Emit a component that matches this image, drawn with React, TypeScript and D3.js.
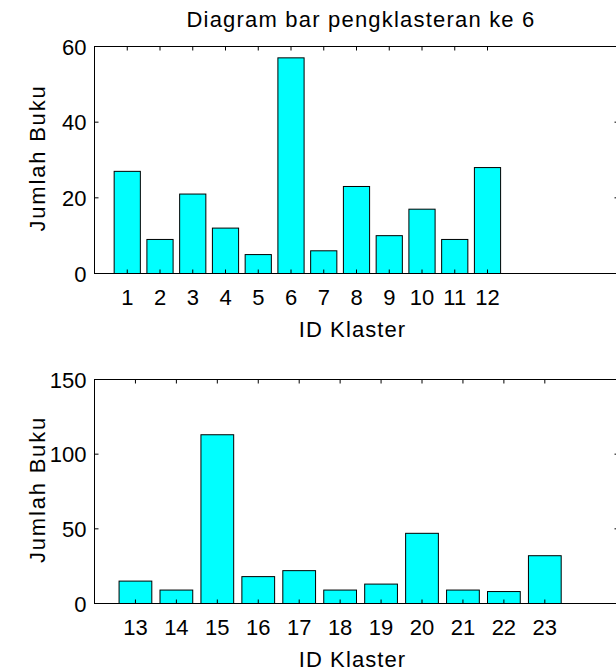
import React from 'react';
import * as d3 from 'd3';

// data
const klasterA = [1, 2, 3, 4, 5, 6, 7, 8, 9, 10, 11, 12];
const bukuA = [27, 9, 21, 12, 5, 57, 6, 23, 10, 17, 9, 28];
const yTicksA = [0, 20, 40, 60];

const klasterB = [13, 14, 15, 16, 17, 18, 19, 20, 21, 22, 23];
const bukuB = [15, 9, 113, 18, 22, 9, 13, 47, 9, 8, 32];
const yTicksB = [0, 50, 100, 150];

const title = 'Diagram bar pengklasteran ke 6';
const xLabel = 'ID Klaster';
const yLabel = 'Jumlah Buku';

const W = 616;
const H = 672;
const font = 'Liberation Sans, Arial, Helvetica, sans-serif';
const left = 94.5;
const right = 618.5;
const tick = 4;

type PanelProps = {
  ids: number[];
  vals: number[];
  yTicks: number[];
  xDomain: [number, number];
  top: number;
  bottom: number;
};

function Panel({ ids, vals, yTicks, xDomain, top, bottom }: PanelProps) {
  const x = d3.scaleLinear().domain(xDomain).range([left, right]);
  const y = d3.scaleLinear().domain([0, yTicks[yTicks.length - 1]]).range([bottom, top]);
  const bw = x(xDomain[0] + 0.8) - x(xDomain[0]);
  const mid = (top + bottom) / 2;

  return (
    <g>
      {ids.map((id, i) => (
        <rect
          key={id}
          x={x(id) - bw / 2}
          y={y(vals[i])}
          width={bw}
          height={y(0) - y(vals[i])}
          fill="#00ffff"
          stroke="#000"
          strokeWidth={1}
        />
      ))}
      {/* axes box */}
      <rect x={left} y={top} width={right - left} height={bottom - top} fill="none" stroke="#000" strokeWidth={1} />
      {ids.map((id) => (
        <g key={'t' + id}>
          <line x1={x(id)} x2={x(id)} y1={top} y2={top + tick} stroke="#000" />
          <line x1={x(id)} x2={x(id)} y1={bottom} y2={bottom - tick} stroke="#000" />
          <text x={x(id)} y={bottom + 31} textAnchor="middle" fontSize={22} fontFamily={font}>
            {id}
          </text>
        </g>
      ))}
      {yTicks.map((t) => (
        <g key={'y' + t}>
          <line x1={left} x2={left + tick} y1={y(t)} y2={y(t)} stroke="#000" />
          <line x1={right} x2={right - tick} y1={y(t)} y2={y(t)} stroke="#000" />
          <text x={left - 8} y={y(t) + 8} textAnchor="end" fontSize={22} fontFamily={font}>
            {t}
          </text>
        </g>
      ))}
      <text x={(left + right) / 2 - 4} y={bottom + 63} textAnchor="middle" fontSize={22} letterSpacing={1.1} fontFamily={font}>
        {xLabel}
      </text>
      <text
        transform={`translate(45,${mid - 2}) rotate(-90)`}
        textAnchor="middle"
        fontSize={22}
        letterSpacing={1.8}
        fontFamily={font}
      >
        {yLabel}
      </text>
    </g>
  );
}

export default function App() {
  return (
    <svg width={W} height={H} style={{ position: 'absolute', left: 0, top: 0, background: '#fff' }}>
      <rect width={W} height={H} fill="#fff" />
      <text x={361} y={27} textAnchor="middle" fontSize={22} letterSpacing={1.2} fontFamily={font}>
        {title}
      </text>
      <Panel ids={klasterA} vals={bukuA} yTicks={yTicksA} xDomain={[0, 16]} top={46.5} bottom={273.5} />
      <Panel ids={klasterB} vals={bukuB} yTicks={yTicksB} xDomain={[12, 24.8]} top={379.5} bottom={603.5} />
    </svg>
  );
}
